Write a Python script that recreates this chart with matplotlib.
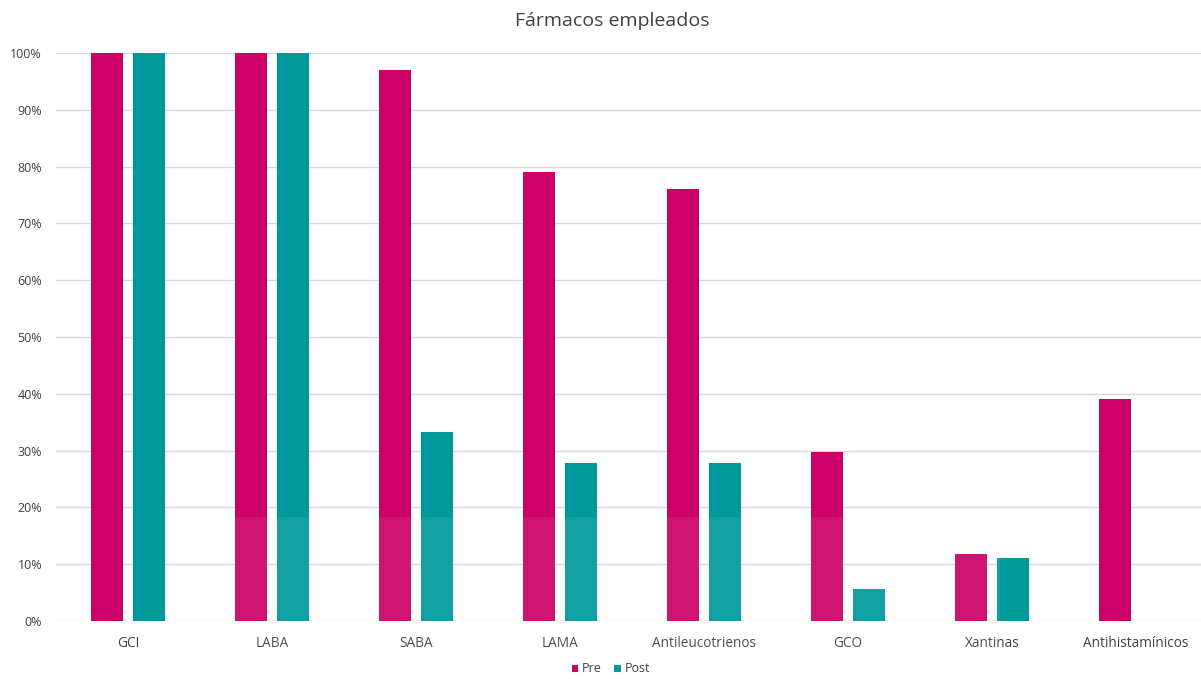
import matplotlib
matplotlib.use("Agg")
import matplotlib.pyplot as plt
from matplotlib.patches import Rectangle
from matplotlib.ticker import PercentFormatter

categories = ["GCI", "LABA", "SABA", "LAMA", "Antileucotrienos", "GCO", "Xantinas", "Antihistamínicos"]
pre = [100, 100, 97, 79, 76, 29.8, 11.8, 39]
post = [100, 100, 33.3, 27.8, 27.8, 5.6, 11.1, 0]
yticks = [0, 10, 20, 30, 40, 50, 60, 70, 80, 90, 100]

pink = "#CC0066"
teal = "#009999"
text_col = "#404040"
plt.rcParams["font.family"] = ["Open Sans", "DejaVu Sans"]

W, H = 1201, 679
fig = plt.figure(figsize=(W / 100, H / 100), dpi=100)
ax = fig.add_axes([56 / W, 58 / H, 1152 / W, 568 / H])

x = list(range(len(categories)))
bw = 0.222
off = 0.143
ax.bar([i - off for i in x], pre, width=bw, color=pink, label="Pre", zorder=3)
ax.bar([i + off for i in x], post, width=bw, color=teal, label="Post", zorder=3)

ax.set_xlim(-0.5, len(categories) - 0.5)
ax.set_ylim(0, 100)
ax.set_yticks(yticks)
ax.yaxis.set_major_formatter(PercentFormatter(100, decimals=0))
ax.set_xticks(x)
ax.set_xticklabels(categories)
ax.tick_params(axis="both", length=0, colors=text_col)
ax.tick_params(axis="x", pad=11, labelsize=9.8)
ax.tick_params(axis="y", pad=10, labelsize=9)
ax.grid(axis="y", color="#D9D9D9", linewidth=1, zorder=0)
for s in ax.spines.values():
    s.set_visible(False)

fig.text(612 / W, 1 - 21 / H, "Fármacos empleados", ha="center", va="center",
         fontsize=14, color=text_col)

fig.legend(loc="center", bbox_to_anchor=(611 / W, 1 - 669 / H), ncol=2,
           frameon=False, fontsize=9, handlelength=0.5, handleheight=0.5,
           handletextpad=0.3, columnspacing=1.0, labelcolor=text_col)

# faint lighter band over the lower middle of the plot
fig.patches.append(Rectangle((215 / W, 0), 785 / W, 162 / H, transform=fig.transFigure,
                             facecolor="white", alpha=0.08, edgecolor="none", zorder=5))

fig.savefig("out.png", dpi=100)
